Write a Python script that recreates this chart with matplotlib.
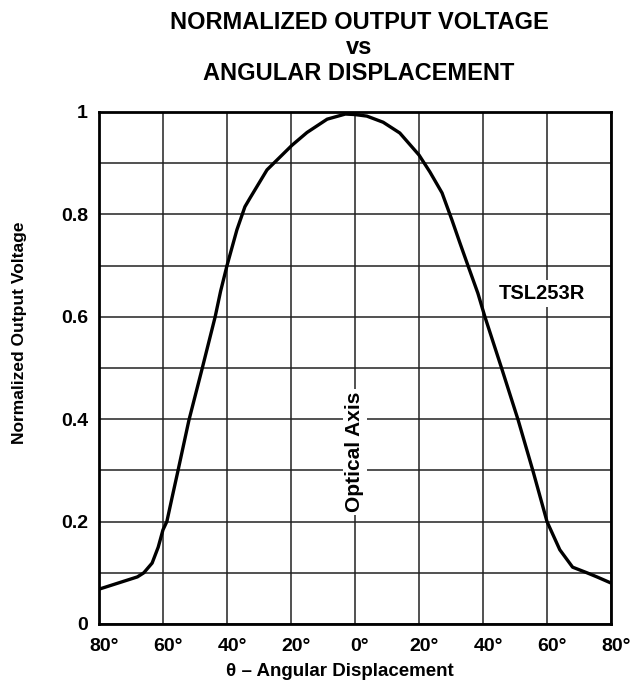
import matplotlib
matplotlib.use("Agg")
import matplotlib.pyplot as plt
import matplotlib.transforms as mtransforms
import numpy as np

plt.rcParams['font.family'] = ['Liberation Sans', 'DejaVu Sans']
plt.rcParams['font.weight'] = 'bold'

# angle (deg) vs normalized output
angle = [-80, -74, -68, -66, -63.4, -61.5, -60, -58.8, -57.2, -55.4, -51.9, -47.8,
         -43.7, -42, -40, -36.9, -34.4, -32.8, -27.5, -19.7, -15, -8.7, -3, 0,
         3.7, 8.8, 14, 20, 23.4, 27.2, 30.3, 32.8, 35.3, 38.4, 40.6, 45.9, 51,
         55.7, 60, 64, 68, 72.5, 75.6, 80]
vout = [0.068, 0.080, 0.092, 0.100, 0.119, 0.150, 0.184, 0.200, 0.246, 0.297, 0.398, 0.498,
        0.600, 0.650, 0.700, 0.770, 0.815, 0.832, 0.887, 0.935, 0.960, 0.986, 0.996, 0.995,
        0.992, 0.980, 0.959, 0.916, 0.883, 0.842, 0.789, 0.744, 0.700, 0.646, 0.600, 0.498, 0.398,
        0.297, 0.200, 0.145, 0.111, 0.100, 0.092, 0.080]

xticks = [-80, -60, -40, -20, 0, 20, 40, 60, 80]
xlabels = ['80°', '60°', '40°', '20°', '0°', '20°', '40°', '60°', '80°']
yticks = [0, 0.2, 0.4, 0.6, 0.8, 1]
ylabels = ['0', '0.2', '0.4', '0.6', '0.8', '1']

fig = plt.figure(figsize=(6.31, 6.88), dpi=100)
ax = fig.add_axes([99/631, 64/688, 512/631, 512/688])

ax.set_xlim(-80, 80)
ax.set_ylim(0, 1)
ax.set_xticks(xticks)
ax.set_xticklabels(xlabels)
ax.set_yticks(yticks)
ax.set_yticklabels(ylabels)
ax.set_yticks(np.arange(0.1, 1.0, 0.2), minor=True)
ax.tick_params(which='both', length=0, labelsize=14)
ax.tick_params(axis='x', pad=10)
ax.tick_params(axis='y', pad=8)

# digits sit on the grid line, the degree sign hangs to the right
shift = mtransforms.ScaledTranslation(5/100, 0, fig.dpi_scale_trans)
for lbl in ax.get_xticklabels():
    lbl.set_transform(lbl.get_transform() + shift)

ax.grid(True, which='major', axis='x', color='#222222', lw=1.1)
ax.grid(True, which='both', axis='y', color='#222222', lw=1.1)
for s in ax.spines.values():
    s.set_linewidth(2)

ax.plot(angle, vout, color='black', lw=2.4, solid_capstyle='butt', zorder=3)

ax.text(0, 0.336, 'Optical Axis', rotation=90, ha='center', va='center', fontsize=15,
        fontweight='bold', bbox=dict(facecolor='white', edgecolor='none', pad=2), zorder=4)
ax.text(58.4, 0.646, 'TSL253R', ha='center', va='center', fontsize=14.5,
        fontweight='bold', bbox=dict(facecolor='white', edgecolor='none', pad=3), zorder=4)

ax.set_xlabel('θ – Angular Displacement', fontsize=13.5, fontweight='bold')
ax.xaxis.set_label_coords((340 - 99)/512, -(672 - 624)/512)
ax.xaxis.label.set_va('center')
fig.text(20/631, 1 - 333/688, 'Normalized Output Voltage', rotation=90, ha='center',
         va='center', fontsize=12.5, fontweight='bold')

fig.text(359/631, 1 - 48/688, 'NORMALIZED OUTPUT VOLTAGE\nvs\nANGULAR DISPLACEMENT',
         ha='center', va='center', fontsize=17, fontweight='bold', linespacing=1.15)

fig.savefig('out.png', dpi=100)
